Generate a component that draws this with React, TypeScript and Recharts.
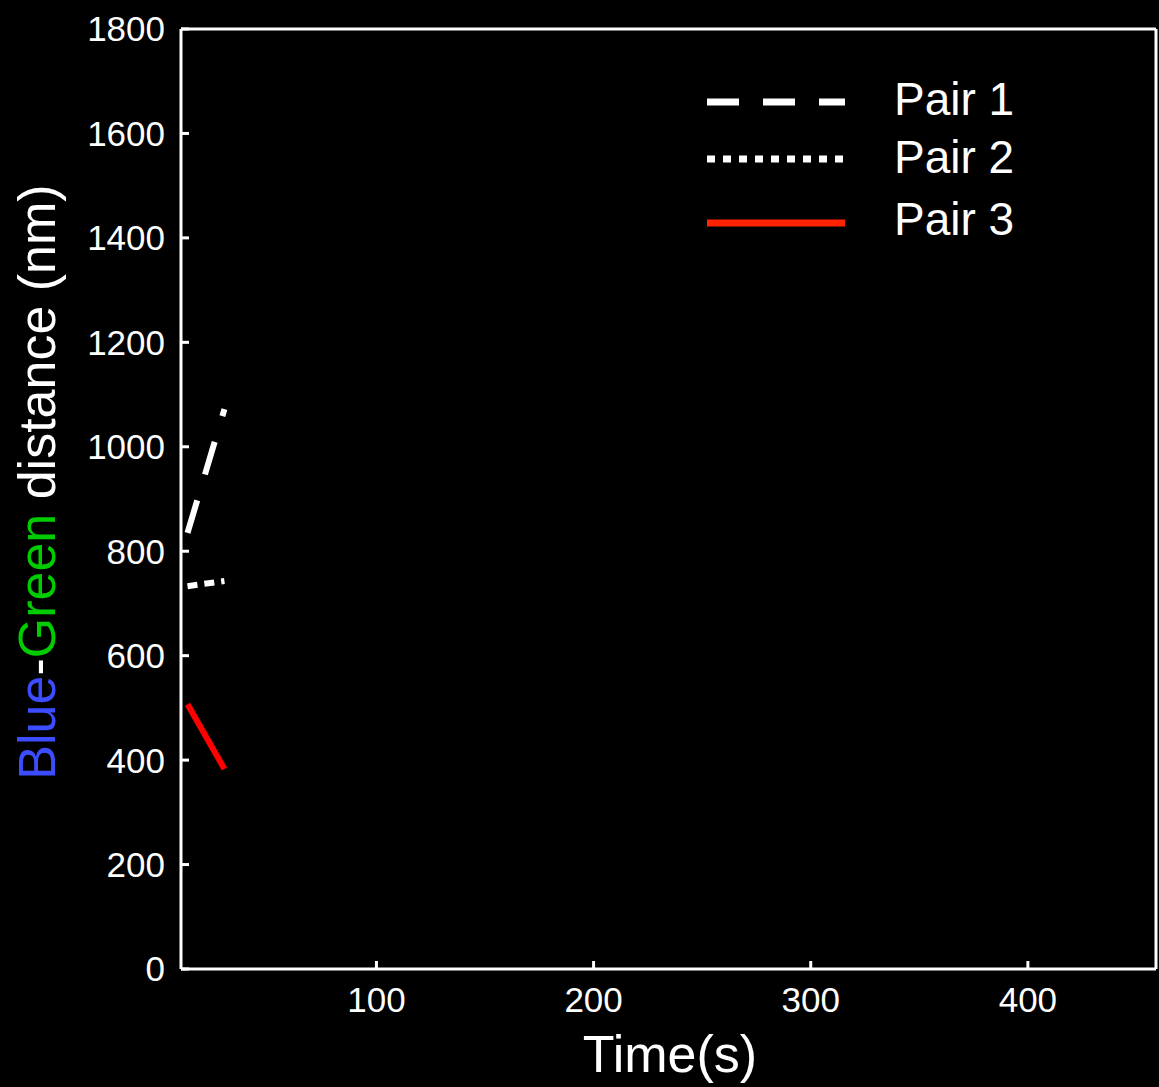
import { LineChart, Line, XAxis, YAxis, Legend } from 'recharts'

const times = [13, 30]
const pair1 = [835, 1072]
const pair2 = [733, 743]
const pair3 = [507, 383]

const xTicks = [100, 200, 300, 400]
const yTicks = [0, 200, 400, 600, 800, 1000, 1200, 1400, 1600, 1800]

const FONT = '"Liberation Sans", Arial, Helvetica, sans-serif'

const data = times.map((t, i) => ({ t, p1: pair1[i], p2: pair2[i], p3: pair3[i] }))

const series = [
  { key: 'p1', name: 'Pair 1', color: '#ffffff', dash: '34 27', legendDash: '32 24' },
  { key: 'p2', name: 'Pair 2', color: '#ffffff', dash: '10 7', legendDash: '8 8' },
  { key: 'p3', name: 'Pair 3', color: '#ff0000', dash: undefined, legendDash: undefined },
]

const tickStyle = { fill: '#ffffff', fontSize: 35, fontFamily: FONT }
const axisLine = { stroke: '#ffffff', strokeWidth: 3 }
const tickLine = { stroke: '#ffffff', strokeWidth: 3 }

function LegendBox() {
  const rows = [
    { lineY: 42, textY: 55 },
    { lineY: 99, textY: 113 },
    { lineY: 163, textY: 175 },
  ]
  return (
    <svg width={340} height={190} style={{ display: 'block' }}>
      {series.map((s, i) => (
        <g key={s.key}>
          <line
            x1={7}
            x2={145}
            y1={rows[i].lineY}
            y2={rows[i].lineY}
            stroke={s.key === 'p3' ? '#ff2200' : s.color}
            strokeWidth={7}
            strokeDasharray={s.legendDash}
          />
          <text x={194} y={rows[i].textY} fill="#ffffff" fontSize={46} fontFamily={FONT}>
            {s.name}
          </text>
        </g>
      ))}
    </svg>
  )
}

function YLabel() {
  return (
    <text
      x={55}
      y={482}
      transform="rotate(-90, 55, 482)"
      textAnchor="middle"
      fontSize={52}
      fontFamily={FONT}
      fill="#ffffff"
    >
      <tspan fill="#3c4dff">Blue</tspan>
      <tspan>-</tspan>
      <tspan fill="#00cc00">Green</tspan>
      <tspan> distance (nm)</tspan>
    </text>
  )
}

function XLabel() {
  return (
    <text x={670} y={1072} textAnchor="middle" fontSize={52} fontFamily={FONT} fill="#ffffff">
      Time(s)
    </text>
  )
}

export default function App() {
  return (
    <div style={{ position: 'absolute', left: 0, top: 0, width: 1159, height: 1087, background: '#000' }}>
      <LineChart width={1159} height={1087} data={data} margin={{ top: 0, right: 0, bottom: 0, left: 0 }}>
        <XAxis
          xAxisId="bottom"
          dataKey="t"
          type="number"
          domain={[10, 459]}
          allowDataOverflow
          ticks={xTicks}
          height={118}
          axisLine={axisLine}
          tickLine={tickLine}
          tickSize={-8}
          tickMargin={26}
          tick={tickStyle}
          label={{ content: () => <XLabel /> }}
        />
        <XAxis
          xAxisId="top"
          orientation="top"
          dataKey="t"
          type="number"
          domain={[10, 459]}
          allowDataOverflow
          ticks={xTicks}
          height={29}
          axisLine={axisLine}
          tickLine={tickLine}
          tickSize={-8}
          tick={false}
        />
        <YAxis
          yAxisId="left"
          type="number"
          domain={[0, 1800]}
          ticks={yTicks}
          width={181}
          axisLine={axisLine}
          tickLine={tickLine}
          tickSize={-8}
          tickMargin={24}
          tick={tickStyle}
          label={{ content: () => <YLabel /> }}
        />
        <YAxis
          yAxisId="right"
          orientation="right"
          type="number"
          domain={[0, 1800]}
          ticks={yTicks}
          width={3}
          axisLine={axisLine}
          tickLine={tickLine}
          tickSize={-8}
          tick={false}
        />
        <Legend
          layout="horizontal"
          verticalAlign="middle"
          align="center"
          content={() => <LegendBox />}
          wrapperStyle={{ left: 700, top: 60, width: 340, height: 190 }}
        />
        {series.map((s) => (
          <Line
            key={s.key}
            xAxisId="bottom"
            yAxisId="left"
            type="linear"
            dataKey={s.key}
            name={s.name}
            stroke={s.color}
            strokeWidth={6}
            strokeDasharray={s.dash}
            dot={false}
            activeDot={false}
            isAnimationActive={false}
          />
        ))}
      </LineChart>
    </div>
  )
}
